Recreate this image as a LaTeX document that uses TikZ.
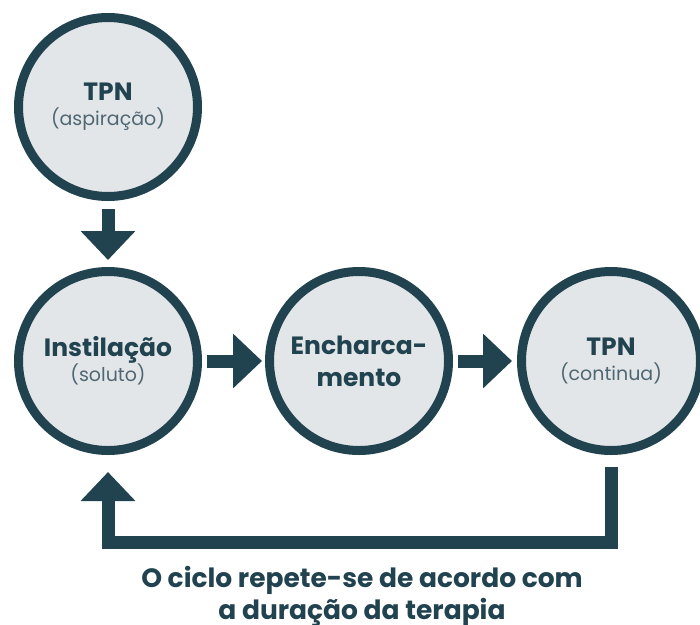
\documentclass[tikz,border=0pt]{standalone}
\usepackage{fontspec}
\setmainfont{Poppins}
\usetikzlibrary{arrows.meta}
\definecolor{teal}{HTML}{21434F}
\definecolor{pale}{HTML}{E3E6E9}
\definecolor{subgray}{HTML}{4F6772}
\newcommand{\bigtxt}{\fontsize{25}{25}\selectfont\bfseries}
\newcommand{\subtxt}{\fontsize{19}{25}\selectfont\mdseries\color{subgray}}
\tikzset{
    stage/.style={circle, draw=teal, fill=pale, line width=9pt, minimum size=179pt, inner sep=0pt, align=center, font=\bigtxt, text=teal},
    flow/.style={teal, line width=13pt, -{Triangle[length=29pt,width=53pt]}},
}
\begin{document}
\begin{tikzpicture}[x=1pt,y=-1pt]
        \clip (0,0) rectangle (700,624);
        \node[stage] (tpnA) at (108,107) {TPN\\{\subtxt (aspiração)}}; %tpn aspiracao
        \node[stage] (inst) at (108,361) {Instilação\\{\subtxt (soluto)}}; %instilacao
        \node[stage] (ench) at (359,361) {Encharca-\\[7pt]mento}; %encharcamento
        \node[stage] (tpnB) at (611,361) {TPN\\{\subtxt (continua)}}; %tpn continua

        \draw[flow, shorten <=8pt, shorten >=7pt] (tpnA.south) -- (inst.north);
        \draw[flow, shorten <=5pt, shorten >=3pt] (inst.east) -- (ench.west);
        \draw[flow, shorten <=5pt, shorten >=5pt] (ench.east) -- (tpnB.west);

        \coordinate (back) at (611,542.5); %return corner
        \draw[flow, shorten <=12pt, shorten >=17pt] (tpnB.south) -- (back) -| (inst.south);

        \node[font=\fontsize{26.5}{32}\selectfont\bfseries, text=teal, align=center, anchor=base] (note) at (362,619)
            {O ciclo repete-se de acordo com\\a duração da terapia};
    \end{tikzpicture}
\end{document}
